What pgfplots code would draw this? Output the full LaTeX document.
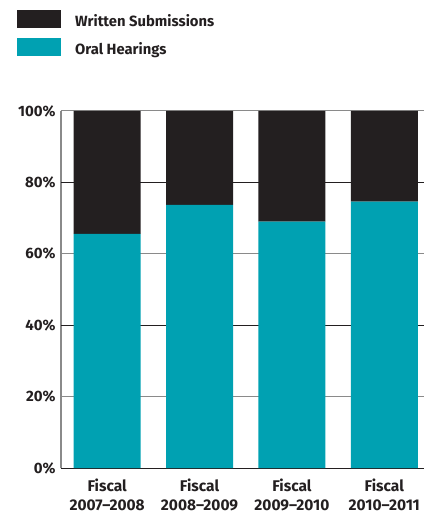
\documentclass[border=0pt]{standalone}
\usepackage{fontspec}
\setmainfont{Fira Sans}
\usepackage{pgfplots}
\pgfplotsset{compat=1.18}
\definecolor{tealc}{HTML}{00A1B2}
\definecolor{darkc}{HTML}{231F20}
\definecolor{gridg}{HTML}{8A8A8A}
\begin{document}
\begin{tikzpicture}
\begin{axis}[
  scale only axis, width=363pt, height=357pt,
  ybar stacked, bar width=67pt,
  xmin=-0.5, xmax=3.43, ymin=0, ymax=100,
  axis x line*=bottom, axis y line*=left,
  x axis line style={darkc, line width=1pt, -},
  y axis line style={gridg, line width=1.2pt, -},
  xtick=data,
  xticklabels={Fiscal\\2007--2008, Fiscal\\2008--2009, Fiscal\\2009--2010, Fiscal\\2010--2011},
  xticklabel style={align=center, font=\bfseries\fontsize{15.5}{19}\selectfont, text=darkc, yshift=-7pt},
  major tick length=0pt,
  ytick={20,60,100},
  extra y ticks={0,40,80},
  extra y tick style={grid style={darkc, line width=0.8pt}},
  ymajorgrids,
  grid style={gridg, line width=1pt},
  /pgf/number format/assume math mode=true,
  yticklabel={\pgfmathprintnumber{\tick}\%},
  yticklabel style={font=\bfseries\fontsize{15}{16}\selectfont, text=darkc, xshift=-2pt},
  reverse legend,
  legend style={at={(rel axis cs:0,1)}, anchor=north west, xshift=-44pt, yshift=101pt,
    draw=none, fill=none, inner sep=0pt, row sep=6pt,
    font=\bfseries\fontsize{14.8}{16}\selectfont, text=darkc,
    nodes={inner sep=0pt, text height=12pt, text depth=6pt},
    /tikz/every odd column/.append style={column sep=14pt}},
  legend cell align=left,
  legend image code/.code={\fill[#1] (0pt,-5pt) rectangle (44pt,13pt);},
]
\addplot[fill=tealc, draw=none] coordinates {(0,65.6) (1,73.7) (2,69.0) (3,74.6)};
\addplot[fill=darkc, draw=none] coordinates {(0,34.4) (1,26.3) (2,31.0) (3,25.4)};
\legend{Oral Hearings, Written Submissions}
\coordinate (o) at (rel axis cs:0,0);
\end{axis}
\path[use as bounding box] ([shift={(-61pt,-46pt)}]o) rectangle ++(424pt,514pt);
\end{tikzpicture}
\end{document}
